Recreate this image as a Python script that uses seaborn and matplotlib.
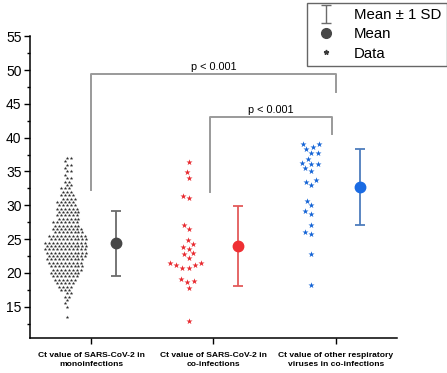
import numpy as np
import pandas as pd
import matplotlib.pyplot as plt
import seaborn as sns
from matplotlib.lines import Line2D
from matplotlib.path import Path

groups = ['Ct value of SARS-CoV-2 in\nmonoinfections',
          'Ct value of SARS-CoV-2 in\nco-infections',
          'Ct value of other respiratory\nviruses in co-infections']

# monoinfections (Ct, number of points)
mono_ct = [13.5, 15.0, 15.5, 16.0, 16.5, 17.0, 17.5, 18.0, 18.5, 19.0, 19.5, 20.0,
           20.5, 21.0, 21.5, 22.0, 22.5, 23.0, 23.5, 24.0, 24.5, 25.0, 25.5, 26.0,
           26.5, 27.0, 27.5, 28.0, 28.5, 29.0, 29.5, 30.0, 30.5, 31.0, 31.5, 32.0,
           32.5, 33.0, 33.5, 34.0, 34.5, 35.0, 35.5, 36.0, 36.5, 37.0]
mono_n = [1, 1, 1, 1, 2, 2, 3, 4, 5, 6, 7, 8,
          8, 9, 9, 10, 10, 11, 11, 11, 11, 10, 10, 8,
          8, 7, 7, 6, 6, 6, 6, 5, 5, 4, 4, 3,
          3, 2, 2, 2, 1, 2, 1, 2, 1, 2]

coinf_ct = [36.4, 34.9, 34.0, 31.4, 31.1, 27.1, 26.5, 24.9, 24.3, 23.9, 23.6, 22.9,
            22.8, 22.2, 21.5, 21.5, 21.2, 21.2, 20.8, 20.8, 19.1, 18.8, 18.7, 17.8, 12.9]

other_ct = [39.1, 39.1, 38.6, 38.3, 37.8, 37.7, 36.9, 36.3, 36.1, 36.1, 35.5, 35.1,
            33.7, 33.5, 33.0, 30.7, 30.0, 29.1, 28.7, 27.1, 26.1, 25.8, 22.8, 18.2]

means = [24.4, 24.0, 32.7]
sds = [4.8, 5.9, 5.65]

p_labels = ['p < 0.001', 'p < 0.001']

data_colors = ['#2e2e2e', '#e8282e', '#1464d6']
mean_colors = ['#474747', '#ef2f33', '#1a6be3']
bar_colors = ['#6b6b6b', '#e35a5a', '#4d7dbd']
dot_sizes = [2.7, 4.6, 4.6]

plt.rcParams['font.family'] = ['Liberation Sans', 'DejaVu Sans']

values = [np.repeat(mono_ct, mono_n), np.array(coinf_ct), np.array(other_ct)]

fig = plt.figure(figsize=(4.47, 3.73), dpi=100)
ax = fig.add_axes([0.067, 0.094, 0.821, 0.809])

for i, vals in enumerate(values):
    df = pd.DataFrame({'pos': i - 0.2, 'ct': vals})
    sns.swarmplot(data=df, x='pos', y='ct', native_scale=True, marker='*',
                  size=dot_sizes[i], color=data_colors[i], linewidth=0, ax=ax,
                  warn_thresh=1)

pos = np.arange(len(groups))
for i in pos:
    ax.errorbar(i + 0.2, means[i], yerr=sds[i], fmt='o', ms=7.5,
                mfc=mean_colors[i], mec=mean_colors[i], ecolor=bar_colors[i],
                elinewidth=1.3, capsize=3.8, capthick=1.3, zorder=4)

# significance brackets
br_color = '#9a9a9a'
ax.plot([0, 0, 2, 2], [32.2, 49.4, 49.4, 46.8], color=br_color, lw=1.4)
ax.plot([0.97, 0.97, 1.97, 1.97], [31.9, 43.0, 43.0, 40.5], color=br_color, lw=1.4)
ax.text(1.0, 49.7, p_labels[0], ha='center', va='bottom', fontsize=7.8)
ax.text(1.47, 43.3, p_labels[1], ha='center', va='bottom', fontsize=7.8)

ax.set_xlim(-0.5, 2.5)
ax.set_ylim(10.4, 55)
ax.set_xticks(pos)
ax.set_xticklabels(groups, fontsize=6.1, fontweight='bold', linespacing=1.35)
ax.set_yticks(np.arange(15, 56, 5))
ax.set_yticks(np.arange(12.5, 55, 5), minor=True)
ax.tick_params(axis='y', labelsize=10, length=4, width=1, pad=2)
ax.tick_params(axis='y', which='minor', length=2.5, width=1)
ax.tick_params(axis='x', length=4, width=1, pad=6)
ax.set_xlabel('')
ax.set_ylabel('')
for side in ['top', 'right']:
    ax.spines[side].set_visible(False)
for side in ['left', 'bottom']:
    ax.spines[side].set_linewidth(1.1)

ibeam = Path([(-0.6, 1), (0.6, 1), (0, 1), (0, -1), (-0.6, -1), (0.6, -1)],
             [Path.MOVETO, Path.LINETO, Path.MOVETO, Path.LINETO, Path.MOVETO, Path.LINETO])
handles = [Line2D([], [], ls='none', marker=ibeam, ms=13, mfc='none', mec='#6b6b6b', mew=1),
           Line2D([], [], ls='none', marker='o', ms=7, color='#474747'),
           Line2D([], [], ls='none', marker='*', ms=3.5, color='#3a3a3a')]
leg = ax.legend(handles, ['Mean \u00b1 1 SD', 'Mean', 'Data'],
                loc='upper right', bbox_to_anchor=(0.999, 0.993),
                bbox_transform=fig.transFigure, fontsize=10.8, frameon=True,
                fancybox=False, edgecolor='#666666', framealpha=1,
                labelspacing=0.36, handlelength=1.9, handletextpad=0.9,
                borderpad=0.35, borderaxespad=0)
leg.get_frame().set_linewidth(1)

fig.savefig('out.png', dpi=100)
